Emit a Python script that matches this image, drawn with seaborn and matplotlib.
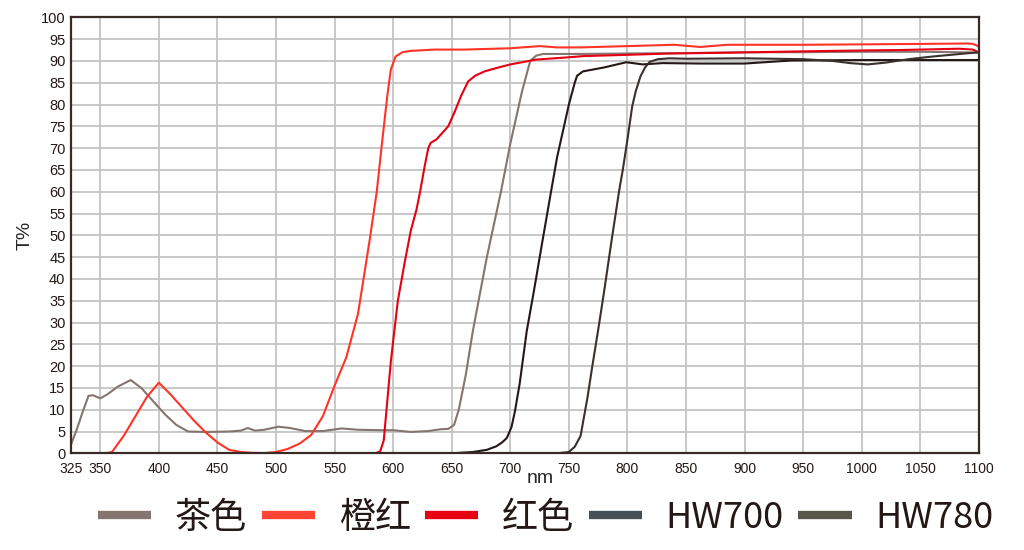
import matplotlib
matplotlib.use("Agg")
import matplotlib.pyplot as plt
from matplotlib.lines import Line2D
import seaborn as sns
import pandas as pd

# transmission curves (nm, T%)
tea_nm = [325, 330, 335, 340, 344, 350, 356, 365, 376, 385, 395, 405, 415, 425, 440, 460, 470,
          476, 482, 490, 502, 512, 525, 540, 556, 570, 590, 600, 615, 630, 640, 647, 652, 656,
          662, 668, 680, 692, 700, 710, 717, 722, 728, 760, 800, 850, 900, 950, 1000, 1050, 1080, 1100]
tea_t = [2.0, 5.5, 9.5, 13.2, 13.3, 12.6, 13.5, 15.3, 16.8, 15.0, 12.0, 9.0, 6.5, 5.0, 4.9, 5.0, 5.2,
         5.8, 5.2, 5.4, 6.1, 5.8, 5.1, 5.1, 5.7, 5.4, 5.3, 5.3, 4.9, 5.1, 5.5, 5.6, 6.5, 10.0,
         18.0, 28.0, 45.0, 60.0, 71.0, 83.0, 90.0, 91.2, 91.6, 91.6, 91.7, 91.8, 92.0, 92.0, 92.1, 92.1, 92.0, 91.9]

orange_nm = [325, 355, 360, 370, 380, 390, 400, 410, 420, 430, 440, 450, 460, 470, 480, 490, 500,
             510, 520, 530, 540, 550, 560, 570, 580, 586, 590, 595, 598, 602, 608, 615, 635, 660,
             700, 725, 740, 760, 800, 840, 862, 885, 950, 1000, 1050, 1090, 1095, 1100]
orange_t = [0.0, 0.0, 0.3, 4.0, 8.5, 13.0, 16.2, 13.5, 10.5, 7.5, 4.8, 2.5, 0.8, 0.3, 0.1, 0.05, 0.3,
            1.0, 2.2, 4.2, 8.5, 15.5, 22.0, 32.0, 49.0, 60.0, 70.0, 82.0, 88.0, 91.0, 92.0, 92.3, 92.6, 92.6,
            92.9, 93.4, 93.1, 93.1, 93.4, 93.7, 93.2, 93.7, 93.7, 93.8, 93.9, 94.0, 93.9, 93.3]

red_nm = [325, 585, 589, 592, 595, 598, 601, 604, 610, 615, 620, 623, 627, 630, 632, 637, 642, 647,
          652, 658, 664, 670, 678, 690, 700, 722, 748, 762, 800, 836, 890, 950, 1000, 1033, 1083, 1095, 1100]
red_t = [0.0, 0.0, 0.5, 3.0, 12.0, 21.0, 28.0, 35.0, 44.0, 51.0, 56.0, 60.0, 66.0, 70.0, 71.2, 72.0, 73.5, 75.0,
         78.0, 82.0, 85.3, 86.6, 87.6, 88.5, 89.2, 90.3, 90.8, 91.1, 91.4, 91.7, 91.9, 92.2, 92.4, 92.5, 92.8, 92.6, 91.9]

hw700_nm = [325, 650, 668, 680, 688, 693, 697, 701, 704, 708, 714, 720, 727, 735, 740, 750, 755, 757,
            762, 780, 799, 813, 830, 862, 900, 940, 1000, 1100]
hw700_t = [0.0, 0.0, 0.3, 0.8, 1.6, 2.5, 3.5, 6.0, 9.7, 16.0, 28.0, 37.0, 48.0, 60.4, 68.0, 80.0, 85.0, 86.6,
           87.6, 88.5, 89.7, 89.2, 89.5, 89.4, 89.4, 90.1, 90.2, 90.2]

hw780_nm = [325, 740, 750, 755, 760, 766, 770, 775, 780, 786, 793, 796, 800, 804, 807, 811, 815, 819,
            826, 836, 850, 900, 950, 975, 990, 1005, 1020, 1040, 1060, 1080, 1100]
hw780_t = [0.0, 0.0, 0.3, 1.5, 4.0, 13.0, 20.0, 28.3, 37.0, 48.0, 60.4, 65.0, 72.0, 79.5, 83.0, 86.4, 88.5, 89.8,
           90.4, 90.6, 90.5, 90.6, 90.4, 90.0, 89.5, 89.2, 89.6, 90.4, 91.0, 91.5, 92.0]

names = ["茶色", "橙红", "红色", "HW700", "HW780"]
line_colors = ["#857570", "#ff3326", "#e60012", "#231815", "#3a302c"]
legend_colors = ["#857570", "#ff4433", "#e60012", "#474f57", "#58574a"]
x_ticks = [325, 350, 400, 450, 500, 550, 600, 650, 700, 750, 800, 850, 900, 950, 1000, 1050, 1100]
y_ticks = list(range(0, 101, 5))

frames = []
for name, xs, ys in zip(names,
                        [tea_nm, orange_nm, red_nm, hw700_nm, hw780_nm],
                        [tea_t, orange_t, red_t, hw700_t, hw780_t]):
    frames.append(pd.DataFrame({"nm": xs, "T": ys, "filter": name}))
df = pd.concat(frames, ignore_index=True)

sns.set_style("white")
plt.rcParams["font.family"] = ["Liberation Sans", "Noto Sans CJK SC", "DejaVu Sans"]

fig = plt.figure(figsize=(10.24, 5.5), dpi=100)
ax = fig.add_axes([0.0693, 0.1758, 0.8867, 0.7927])

for x in x_ticks[1:-1]:
    ax.axvline(x, color="#c4c4c4", lw=1.3, zorder=0)
for y in y_ticks[1:-1]:
    ax.axhline(y, color="#c4c4c4", lw=1.3, zorder=0)

sns.lineplot(data=df, x="nm", y="T", hue="filter", hue_order=names,
             palette=dict(zip(names, line_colors)), estimator=None, sort=False,
             linewidth=1.5, legend=False, ax=ax)

ax.set_xlim(325, 1100)
ax.set_ylim(0, 100)
ax.set_xticks(x_ticks)
ax.set_yticks(y_ticks)
ax.tick_params(length=0, labelsize=10.5, colors="#231815")
ax.tick_params(axis="x", labelsize=10, pad=6)
ax.tick_params(axis="y", pad=4)
for s in ax.spines.values():
    s.set_color("#3a2a25")
    s.set_linewidth(1.6)
ax.set_xlabel("nm", fontsize=14)
ax.xaxis.set_label_coords(0.5165, -0.038)
ax.set_ylabel("T%", fontsize=14, labelpad=5)

handles = [Line2D([], [], color=c, lw=6, solid_capstyle="butt") for c in legend_colors]
leg = fig.legend(handles, names, loc="center", bbox_to_anchor=(0.533, 0.058), ncol=5,
                 frameon=False, handlelength=1.47, handletextpad=0.66, columnspacing=0.4,
                 borderpad=0, prop={"family": ["Noto Sans CJK SC"], "weight": 300, "size": 26})
for t in leg.get_texts():
    t.set_color("#231815")

fig.savefig("out.png", dpi=100)
